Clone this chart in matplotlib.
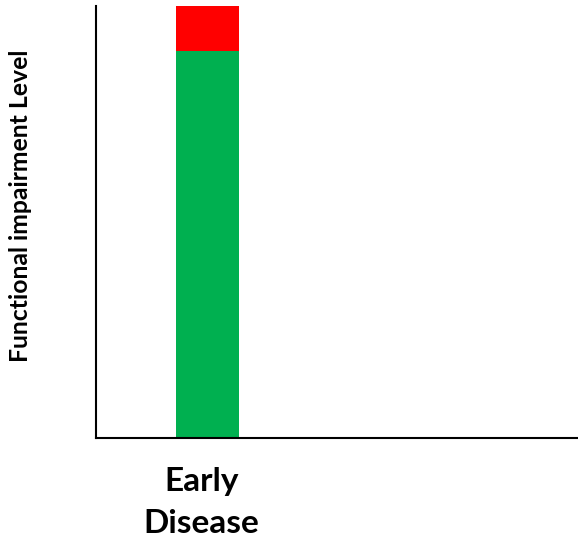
import matplotlib
matplotlib.use("Agg")
import matplotlib.pyplot as plt
from matplotlib.transforms import ScaledTranslation

categories = ["Early\nDisease"]
green_values = [89.5]
red_values = [10.5]
y_label = "Functional impairment Level"

fig = plt.figure(figsize=(5.78, 5.38), dpi=100)
ax = fig.add_axes([96/578, (538-438)/538, (578-96)/578, (438-6)/538])

x = list(range(len(categories)))
ax.bar(x, green_values, width=0.6, color="#00B050")
ax.bar(x, red_values, width=0.6, bottom=green_values, color="#FF0000")

ax.set_xlim(-1.062, 3.528)
ax.set_ylim(0, 100)
ax.set_xticks(x)
ax.set_xticklabels(categories, fontfamily="Lato", fontweight="bold", fontsize=24, linespacing=1.55)
ax.tick_params(axis="x", length=0, pad=21)
for lab in ax.get_xticklabels():
    lab.set_transform(lab.get_transform() + ScaledTranslation(-6/100, 0, fig.dpi_scale_trans))
ax.set_yticks([])
fig.text(21/578, 1 - 206/538, y_label, rotation=90, ha="center", va="center",
         fontfamily="Lato", fontweight="bold", fontsize=17.8)
for s in ["top", "right"]:
    ax.spines[s].set_visible(False)
for s in ["left", "bottom"]:
    ax.spines[s].set_linewidth(1.5)
    ax.spines[s].set_color("black")

fig.savefig("out.png", dpi=100)
